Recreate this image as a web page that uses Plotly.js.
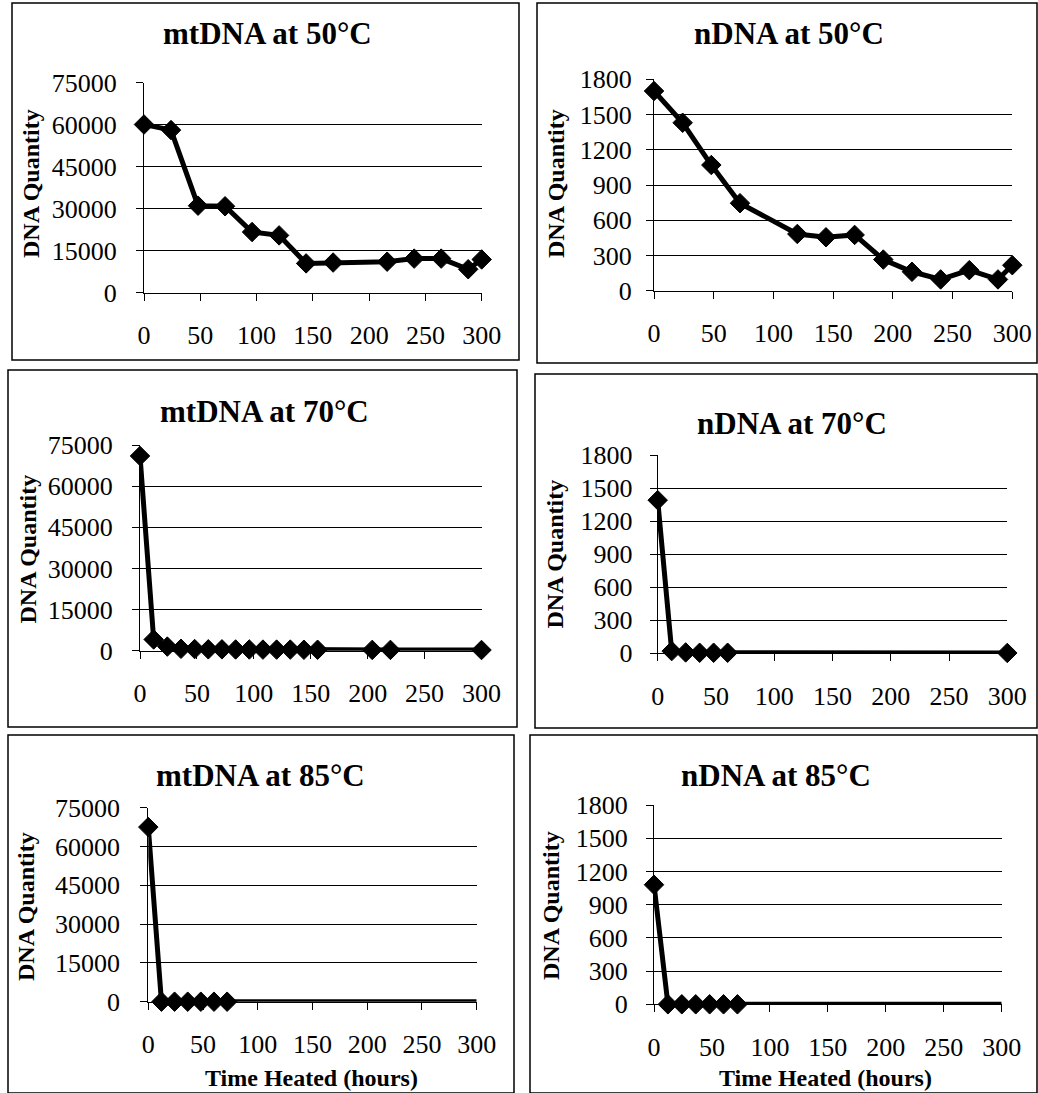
<!DOCTYPE html>
<html><head><meta charset="utf-8">
<script src="https://cdn.plot.ly/plotly-3.0.1.min.js"></script>
<style>html,body{margin:0;padding:0;background:#fff}#chart{width:1038px;height:1093px}</style>
</head><body><div id="chart"></div>
<script>
const W = 1038, H = 1093;

// ---- data ----
const titles = ["mtDNA at 50°C", "nDNA at 50°C", "mtDNA at 70°C", "nDNA at 70°C", "mtDNA at 85°C", "nDNA at 85°C"];
const mt50_hours = [0, 24, 48, 72, 96, 120, 144, 168, 216, 240, 264, 288, 300];
const mt50_qty   = [60000, 58000, 31000, 30800, 21600, 20400, 10400, 10700, 11000, 12100, 12100, 8300, 11800];
const n50_hours  = [0, 24, 48, 72, 120, 144, 168, 192, 216, 240, 264, 288, 300];
const n50_qty    = [1700, 1430, 1070, 745, 483, 455, 475, 265, 161, 96, 175, 96, 217];
const mt70_hours = [0, 12, 24, 36, 48, 60, 72, 84, 96, 108, 120, 132, 144, 156, 204, 220, 300];
const mt70_qty   = [71000, 4100, 1500, 700, 600, 500, 500, 450, 450, 400, 400, 400, 350, 350, 300, 300, 250];
const n70_hours  = [0, 12, 24, 36, 48, 60, 300];
const n70_qty    = [1390, 20, 8, 5, 5, 5, 3];
const mt85_hours = [0, 12, 24, 36, 48, 60, 72, 300];
const mt85_qty   = [67500, 0, 0, 0, 0, 0, 0, 0];
const n85_hours  = [0, 12, 24, 36, 48, 60, 72, 300];
const n85_qty    = [1080, 0, 0, 0, 0, 0, 0, 0];
const xTickVals  = [0, 50, 100, 150, 200, 250, 300];
const mtTickVals = [0, 15000, 30000, 45000, 60000, 75000];
const nTickVals  = [0, 300, 600, 900, 1200, 1500, 1800];
const xTitle = "Time Heated (hours)";
const yTitle = "DNA Quantity";

const series = [
  {x: mt50_hours, y: mt50_qty, ticks: mtTickVals, lastMarker: true},
  {x: n50_hours,  y: n50_qty,  ticks: nTickVals,  lastMarker: true},
  {x: mt70_hours, y: mt70_qty, ticks: mtTickVals, lastMarker: true},
  {x: n70_hours,  y: n70_qty,  ticks: nTickVals,  lastMarker: true},
  {x: mt85_hours, y: mt85_qty, ticks: mtTickVals, lastMarker: false},
  {x: n85_hours,  y: n85_qty,  ticks: nTickVals,  lastMarker: false}
];

// ---- layout geometry (pixels) ----
const plots = [
  {x0: 144,   x1: 481.7,  yT: 82.5,  yB: 292.5,  title: [267, 33],    ylab: [31, 184],    ystand: 14},
  {x0: 654,   x1: 1012.3, yT: 79.3,  yB: 290.7,  title: [789, 33],    ylab: [556, 184],   ystand: 9},
  {x0: 140,   x1: 481.5,  yT: 445,   yB: 650.7,  title: [264, 411.7], ylab: [27.5, 549],  ystand: 14},
  {x0: 657.7, x1: 1007.3, yT: 455,   yB: 653.3,  title: [791.7, 423], ylab: [554.5, 554], ystand: 12},
  {x0: 148.3, x1: 476.7,  yT: 807.7, yB: 1001.7, title: [260.7, 775], ylab: [26, 907],    ystand: 15},
  {x0: 654,   x1: 1001.7, yT: 805,   yB: 1004.3, title: [776.3, 775], ylab: [551, 906],   ystand: 13}
];
const boxes = [
  [12, 3, 519, 360], [537, 3, 1037, 363],
  [8, 370, 517, 727], [535, 374, 1037, 728],
  [8, 735, 514, 1093], [530, 735, 1037, 1093]
];
const xlabPos = [[311.7, 1078], [825, 1078]];

const px = v => v / W, py = v => 1 - v / H;
const serif = "'Liberation Serif', 'Times New Roman', serif";

const traces = [], annotations = [], shapes = [];
const layout = {
  width: W, height: H, margin: {l: 0, r: 0, t: 0, b: 0},
  paper_bgcolor: "#fff", plot_bgcolor: "#fff", showlegend: false,
  font: {family: serif, color: "#000"}
};

series.forEach((s, i) => {
  const n = i + 1, p = plots[i];
  const sfx = n === 1 ? "" : String(n);
  const sizes = s.x.map((_, k) => (k === s.x.length - 1 && !s.lastMarker) ? 0 : 15);
  traces.push({
    type: "scatter", mode: "lines+markers", x: s.x, y: s.y,
    xaxis: "x" + sfx, yaxis: "y" + sfx,
    line: {color: "#000", width: 5},
    marker: {symbol: "diamond", size: sizes, color: "#000", opacity: 1, line: {color: "#000", width: 1}},
    opacity: 1, cliponaxis: false, hoverinfo: "skip"
  });
  const ymax = s.ticks[s.ticks.length - 1];
  layout["xaxis" + sfx] = {
    domain: [px(p.x0), px(p.x1)], anchor: "y" + sfx,
    range: [0, 300], tickvals: xTickVals, ticktext: xTickVals.map(String),
    showgrid: false, zeroline: false, showline: true, linecolor: "#000", linewidth: 1,
    ticks: "outside", ticklen: 7, tickwidth: 1, tickcolor: "#000",
    ticklabelstandoff: 12,
    tickfont: {family: serif, size: 26, color: "#000"}, fixedrange: true
  };
  layout["yaxis" + sfx] = {
    domain: [py(p.yB), py(p.yT)], anchor: "x" + sfx,
    range: [0, ymax], tickvals: s.ticks, ticktext: s.ticks.map(String),
    showgrid: true, gridcolor: "#000", gridwidth: 1,
    zeroline: false, showline: true, linecolor: "#000", linewidth: 1,
    ticks: "outside", ticklen: 7, tickwidth: 1, tickcolor: "#000",
    ticklabelstandoff: p.ystand,
    tickfont: {family: serif, size: 26, color: "#000"}, fixedrange: true
  };
  annotations.push({
    text: "<b>" + titles[i] + "</b>", xref: "paper", yref: "paper",
    x: px(p.title[0]), y: py(p.title[1]), xanchor: "center", yanchor: "middle",
    showarrow: false, font: {family: serif, size: 31, color: "#000"}
  });
  annotations.push({
    text: "<b>" + yTitle + "</b>", xref: "paper", yref: "paper", textangle: -90,
    x: px(p.ylab[0]), y: py(p.ylab[1]), xanchor: "center", yanchor: "middle",
    showarrow: false, font: {family: serif, size: 24, color: "#000"}
  });
});
xlabPos.forEach(pos => annotations.push({
  text: "<b>" + xTitle + "</b>", xref: "paper", yref: "paper",
  x: px(pos[0]), y: py(pos[1]), xanchor: "center", yanchor: "middle",
  showarrow: false, font: {family: serif, size: 24, color: "#000"}
}));
boxes.forEach(b => shapes.push({
  type: "rect", xref: "paper", yref: "paper",
  x0: px(b[0]), x1: px(b[2]), y0: py(b[3]), y1: py(b[1]),
  line: {color: "#000", width: 1.5}, fillcolor: "rgba(0,0,0,0)", layer: "below"
}));
layout.annotations = annotations;
layout.shapes = shapes;

Plotly.newPlot("chart", traces, layout, {staticPlot: true, displayModeBar: false});
</script></body></html>
